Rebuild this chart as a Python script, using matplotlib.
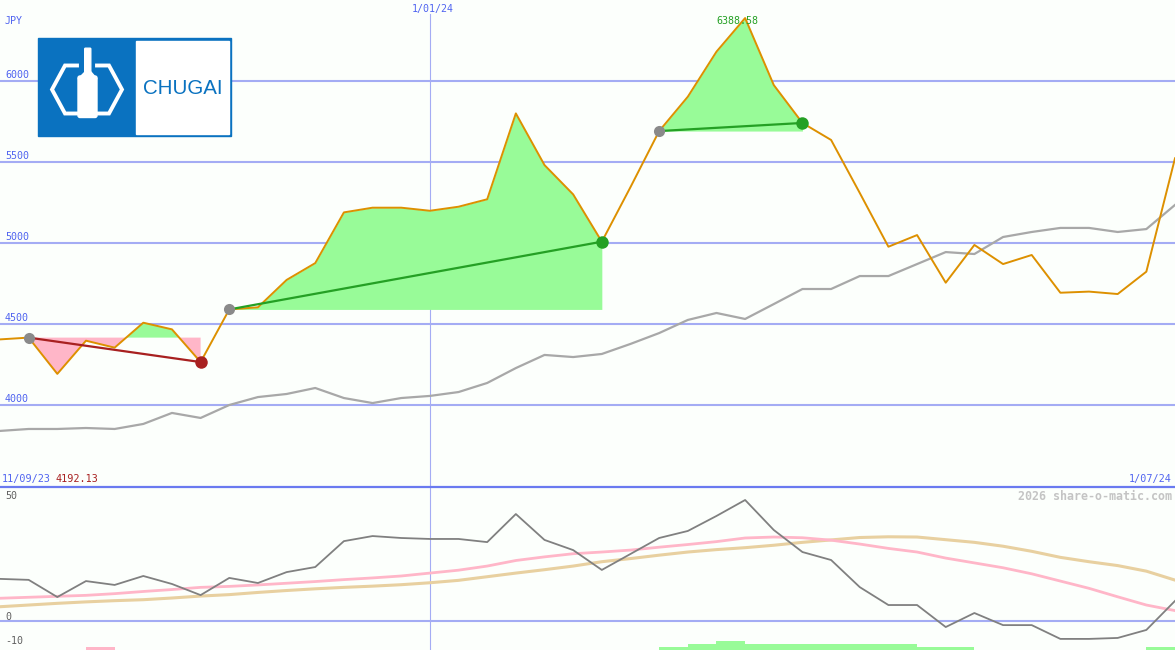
import numpy as np
import matplotlib
matplotlib.use('Agg')
import matplotlib.pyplot as plt
from matplotlib.patches import Rectangle, FancyBboxPatch, Polygon

currency = 'JPY'
first_date, mid_date, last_date = '11/09/23', '1/01/24', '1/07/24'
mid_index = 15
watermark = '2026 share-o-matic.com'
company = 'CHUGAI'

price = [4405, 4416, 4192.13, 4397, 4354, 4508, 4467, 4265, 4590, 4603,
         4772, 4876, 5189, 5218, 5218, 5199, 5224, 5270, 5800, 5481,
         5300, 5008, 5345, 5691, 5903, 6181, 6388.58, 5975, 5741, 5636,
         5309, 4977, 5049, 4755, 4988, 4870, 4926, 4693, 4700, 4685,
         4823, 5523]
price_avg = [3840, 3852, 3852, 3858, 3852, 3883, 3951, 3920, 4000, 4049,
             4068, 4105, 4043, 4012, 4043, 4056, 4080, 4136, 4228, 4309,
             4296, 4315, 4377, 4444, 4525, 4568, 4531, 4623, 4716, 4716,
             4796, 4796, 4870, 4944, 4932, 5037, 5068, 5093, 5093, 5068,
             5086, 5235]
momentum = [17.4, 17.0, 9.9, 16.5, 14.9, 18.6, 15.3, 10.7, 17.8, 15.7,
            20.2, 22.3, 33.0, 35.1, 34.3, 33.9, 33.9, 32.6, 44.2, 33.5,
            29.3, 21.1, 27.7, 34.3, 37.2, 43.4, 50.0, 37.6, 28.5, 25.2,
            14.0, 6.6, 6.6, -2.5, 3.3, -1.7, -1.7, -7.4, -7.4, -7.0,
            -3.7, 8.3]
momentum_fast = [9.4, 9.8, 10.2, 10.6, 11.3, 12.2, 13.0, 13.9, 14.3, 14.9,
                 15.6, 16.3, 17.1, 17.8, 18.6, 19.8, 21.0, 22.7, 25.0, 26.5,
                 27.8, 28.5, 29.3, 30.5, 31.6, 32.8, 34.3, 34.7, 34.4, 33.4,
                 31.8, 30.0, 28.5, 26.0, 24.0, 22.0, 19.5, 16.5, 13.5, 10.0,
                 6.6, 4.3]
momentum_slow = [5.9, 6.6, 7.3, 7.9, 8.4, 8.8, 9.5, 10.3, 10.9, 11.8,
                 12.6, 13.3, 13.9, 14.4, 15.0, 15.8, 16.8, 18.3, 19.8, 21.2,
                 22.7, 24.5, 25.8, 27.2, 28.5, 29.5, 30.3, 31.3, 32.5, 33.5,
                 34.5, 34.8, 34.7, 33.6, 32.5, 30.9, 28.8, 26.3, 24.5, 22.9,
                 20.6, 16.9]
hist = [0, 0, 0, -1, 0, 0, 0, 0, 0, 0,
        0, 0, 0, 0, 0, 0, 0, 0, 0, 0,
        0, 0, 0, 1, 2, 3, 2, 2, 2, 2,
        2, 2, 1, 1, 0, 0, 0, 0, 0, 0,
        1]
price_levels = [4000, 4500, 5000, 5500, 6000]
momentum_levels = [50, 0, -10]
swing_start = [1, 8, 23]
swing_end = [7, 21, 28]

bg = '#fcfffc'
grid = '#a4acf4'
blue_txt = '#5064f0'
mono = 'DejaVu Sans Mono'
W, H = 1175, 650
split = 487

fig = plt.figure(figsize=(W / 100, H / 100), dpi=100, facecolor=bg)
ax = fig.add_axes([0, (H - split) / H, 1, split / H], facecolor=bg)
ax2 = fig.add_axes([0, 0, 1, (H - split) / H], facecolor=bg)
x = np.arange(len(price))
p = np.array(price, dtype=float)

# price panel
ax.set_xlim(0, len(price) - 1)
ax.set_ylim(4000 - (split - 405) / 0.162, 4000 + 405 / 0.162)
for v in price_levels:
    ax.axhline(v, color=grid, lw=1.5, zorder=1)
    ax.annotate(str(v), (0, v), xytext=(5, 6), textcoords='offset pixels',
                va='center', ha='left', color=blue_txt, fontsize=7.2, family=mono)
ax.axvline(mid_index, ymax=(split - 14) / split, color=grid, lw=0.8, zorder=1)
ax.annotate(mid_date, (mid_index, 1), xycoords=('data', 'axes fraction'),
            xytext=(3, -9), textcoords='offset pixels', ha='center', va='center',
            color=blue_txt, fontsize=7.2, family=mono)
ax.annotate(currency, (0, 1), xycoords='axes fraction', xytext=(5, -21),
            textcoords='offset pixels', va='center', color=blue_txt,
            fontsize=7.2, family=mono)

ax.plot(x, price_avg, color='#a8a8a8', lw=1.6, zorder=2)
for s, e in zip(swing_start, swing_end):
    xs, ps = x[s:e + 1], p[s:e + 1]
    lvl = p[s]
    ax.fill_between(xs, ps, lvl, where=ps >= lvl, interpolate=True,
                    color='#98fb98', lw=0, zorder=3)
    ax.fill_between(xs, ps, lvl, where=ps <= lvl, interpolate=True,
                    color='#ffb6c8', lw=0, zorder=3)
ax.plot(x, p, color='#dd9000', lw=1.4, zorder=4)
for s, e in zip(swing_start, swing_end):
    up = p[e] > p[s]
    c = '#24a024' if up else '#a82020'
    ax.plot([x[s], x[e]], [p[s], p[e]], color=c, lw=1.6, zorder=5)
    ax.plot(x[s], p[s], 'o', color='#8a8a8a', ms=8, mec='none', zorder=6)
    ax.plot(x[e], p[e], 'o', color=c, ms=9, mec='none', zorder=6)

top_i = int(np.argmax(p))
ax.annotate(f'{p[top_i]:.2f}', (x[top_i], p[top_i]), xytext=(-8, -3),
            textcoords='offset pixels', ha='center', va='center',
            color='#24a024', fontsize=7.2, family=mono, zorder=7)
ax.annotate(first_date, (0, 0), xycoords='axes fraction', xytext=(2, 8),
            textcoords='offset pixels', va='center', color=blue_txt,
            fontsize=7.3, family=mono)
ax.annotate(f'{p.min():.2f}', (0, 0), xycoords='axes fraction', xytext=(55, 8),
            textcoords='offset pixels', va='center', color='#a82020',
            fontsize=7.3, family=mono)
ax.annotate(last_date, (1, 0), xycoords='axes fraction', xytext=(-3, 8),
            textcoords='offset pixels', va='center', ha='right', color=blue_txt,
            fontsize=7.3, family=mono)

# momentum panel
ax2.set_xlim(0, len(price) - 1)
ax2.set_ylim(-(H - 621) / 2.42, (621 - split) / 2.42)
ax2.axhline(0, color=grid, lw=1.5, zorder=1)
ax2.axvline(mid_index, color=grid, lw=0.8, zorder=1)
unit = 3 / 2.42
y0 = ax2.get_ylim()[0]
for i, v in enumerate(hist):
    if v:
        ax2.bar(i, abs(v) * unit, width=1, bottom=y0, align='edge',
                color='#98fb98' if v > 0 else '#ffb6c8', lw=0, zorder=2)
ax2.plot(x, momentum_slow, color='#e8d0a0', lw=2.2, zorder=3)
ax2.plot(x, momentum_fast, color='#ffb6c8', lw=2.0, zorder=3)
ax2.plot(x, momentum, color='#808080', lw=1.3, zorder=4)
for v in momentum_levels:
    ax2.annotate(str(v), (0, v), xytext=(5, 4), textcoords='offset pixels',
                 va='center', color='#606060', fontsize=7.2, family=mono)
ax2.annotate(watermark, (1, 1), xycoords='axes fraction', xytext=(-3, -9),
             textcoords='offset pixels', ha='right', va='center', color='#c4c4c4',
             fontsize=8.4, family=mono, fontweight='bold')

for a in (ax, ax2):
    a.set_xticks([])
    a.set_yticks([])
    for sp in a.spines.values():
        sp.set_visible(False)
ax2.spines['top'].set_visible(True)
ax2.spines['top'].set_color('#6a7af0')
ax2.spines['top'].set_linewidth(1.6)

# logo
lg = fig.add_axes([0, 0, 1, 1])
lg.set_xlim(0, W)
lg.set_ylim(H, 0)
lg.axis('off')
logo_blue = '#0a72c0'
lg.add_patch(Rectangle((38, 38), 193, 98, color=logo_blue))
lg.add_patch(Rectangle((136, 40.5), 93, 93, color='white'))
lg.text(183, 89, company, ha='center', va='center', color=logo_blue, fontsize=14.8,
        family=['Liberation Sans', 'DejaVu Sans'])
lg.plot([77, 65, 52, 65, 77], [65.5, 65.5, 89.5, 113.5, 113.5], color='white', lw=2.8,
        solid_joinstyle='miter')
lg.plot([97, 109, 122, 109, 97], [65.5, 65.5, 89.5, 113.5, 113.5], color='white', lw=2.8,
        solid_joinstyle='miter')
lg.add_patch(FancyBboxPatch((85.5, 49), 4.5, 24, boxstyle='round,pad=0.8', color='white'))
lg.add_patch(Polygon([(85, 72), (91, 72), (97, 79), (78, 79)], color='white'))
lg.add_patch(FancyBboxPatch((80, 78), 15, 37.5, boxstyle='round,pad=2', color='white'))

fig.savefig('out.png', dpi=100, facecolor=bg)
